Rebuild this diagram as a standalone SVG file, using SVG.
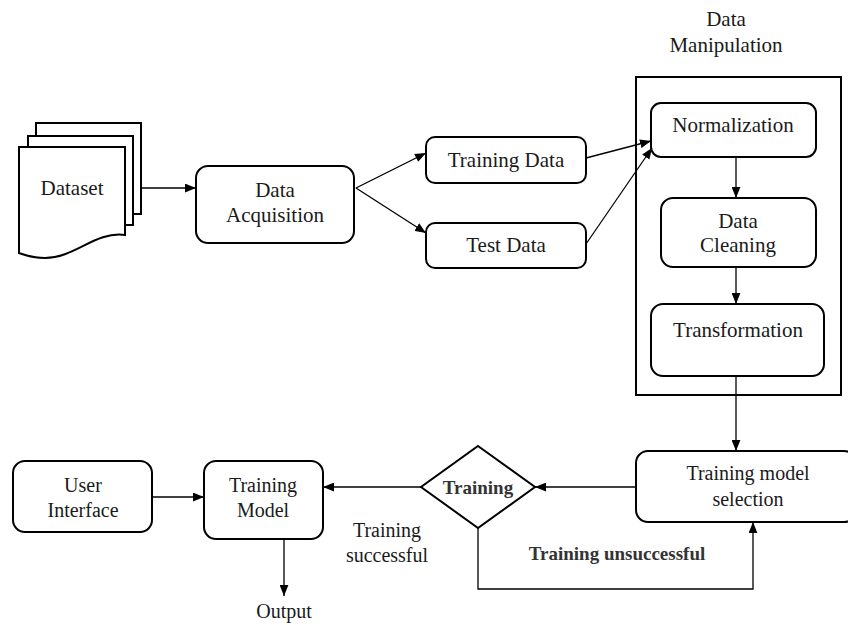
<svg xmlns="http://www.w3.org/2000/svg" width="848" height="625" viewBox="0 0 848 625" font-family="Liberation Serif, serif">
<style>
.box{fill:#fff;stroke:#000;stroke-width:2}
.t{font-family:'Liberation Serif',serif;font-size:21px;fill:#1a1a1a;text-anchor:middle}
.s{font-size:20px}
.b{font-weight:bold;font-size:19px;fill:#333}
.c{fill:none;stroke:#000;stroke-width:1.3}
</style>
<defs>
<marker id="ah" viewBox="0 0 10 8" refX="10" refY="4" markerWidth="11" markerHeight="9" markerUnits="userSpaceOnUse" orient="auto">
<path d="M0,0 L10,4 L0,8 Z" fill="#000"/>
</marker>
</defs>
<rect width="848" height="625" fill="#fff"/>

<g id="dataset">
<rect class="box" x="36" y="123" width="105" height="91"/>
<rect class="box" x="28" y="136" width="105" height="89"/>
<path class="box" d="M19,147 H125 V235 C95,231 75,258 45,258 C33,258 25,255 19,253 Z"/>
<text class="t" x="72" y="195">Dataset</text>
</g>

<g id="acquisition">
<rect class="box" x="196" y="166" width="158" height="77" rx="12"/>
<text class="t" x="275" y="197">Data</text>
<text class="t" x="275" y="222">Acquisition</text>
</g>

<g id="training-data">
<rect class="box" x="426" y="137" width="160" height="46" rx="9"/>
<text class="t" x="506" y="167">Training Data</text>
</g>

<g id="test-data">
<rect class="box" x="426" y="223" width="160" height="45" rx="9"/>
<text class="t" x="506" y="252">Test Data</text>
</g>

<g id="data-manipulation">
<rect x="636" y="77" width="205" height="318" fill="none" stroke="#000" stroke-width="2"/>
<text class="t" x="726" y="26">Data</text>
<text class="t" x="726" y="52">Manipulation</text>
</g>

<g id="normalization">
<rect class="box" x="651" y="103" width="165" height="54" rx="10"/>
<text class="t" x="733" y="132">Normalization</text>
</g>

<g id="data-cleaning">
<rect class="box" x="661" y="198" width="155" height="69" rx="12"/>
<text class="t" x="738" y="228">Data</text>
<text class="t" x="738" y="252">Cleaning</text>
</g>

<g id="transformation">
<rect class="box" x="651" y="304" width="173" height="72" rx="12"/>
<text class="t" x="738" y="337">Transformation</text>
</g>

<g id="model-selection">
<rect class="box" x="636" y="451" width="220" height="71" rx="12"/>
<text class="t s" x="748" y="480">Training model</text>
<text class="t s" x="748" y="506">selection</text>
</g>

<g id="decision">
<polygon class="box" points="478,446 535,487 478,528 421,487"/>
<text class="t b" x="478" y="494">Training</text>
</g>

<g id="training-model">
<rect class="box" x="204" y="461" width="119" height="78" rx="12"/>
<text class="t s" x="263" y="492">Training</text>
<text class="t s" x="263" y="517">Model</text>
</g>

<g id="user-interface">
<rect class="box" x="13" y="461" width="139" height="71" rx="12"/>
<text class="t s" x="83" y="492">User</text>
<text class="t s" x="83" y="517">Interface</text>
</g>

<g id="output">
<text class="t s" x="284" y="618">Output</text>
</g>

<g id="connectors">
<path class="c" d="M141,188 H196" marker-end="url(#ah)"/>
<path class="c" d="M356,188 L426,153" marker-end="url(#ah)"/>
<path class="c" d="M356,188 L426,233" marker-end="url(#ah)"/>
<path class="c" d="M586,158 L651,141" marker-end="url(#ah)"/>
<path class="c" d="M586,244 L652,148" marker-end="url(#ah)"/>
<path class="c" d="M736,157 V198" marker-end="url(#ah)"/>
<path class="c" d="M736,267 V304" marker-end="url(#ah)"/>
<path class="c" d="M736,376 V451" marker-end="url(#ah)"/>
<path class="c" d="M636,487 H535" marker-end="url(#ah)"/>
<path class="c" d="M421,487 H323" marker-end="url(#ah)"/>
<path class="c" d="M152,497 H204" marker-end="url(#ah)"/>
<path class="c" d="M284,539 V596" marker-end="url(#ah)"/>
<path class="c" d="M478,528 V589 H753 V522" marker-end="url(#ah)"/>
<text class="t s" x="387" y="537">Training</text>
<text class="t s" x="387" y="562">successful</text>
<text class="t b" x="617" y="560">Training unsuccessful</text>
</g>
</svg>
